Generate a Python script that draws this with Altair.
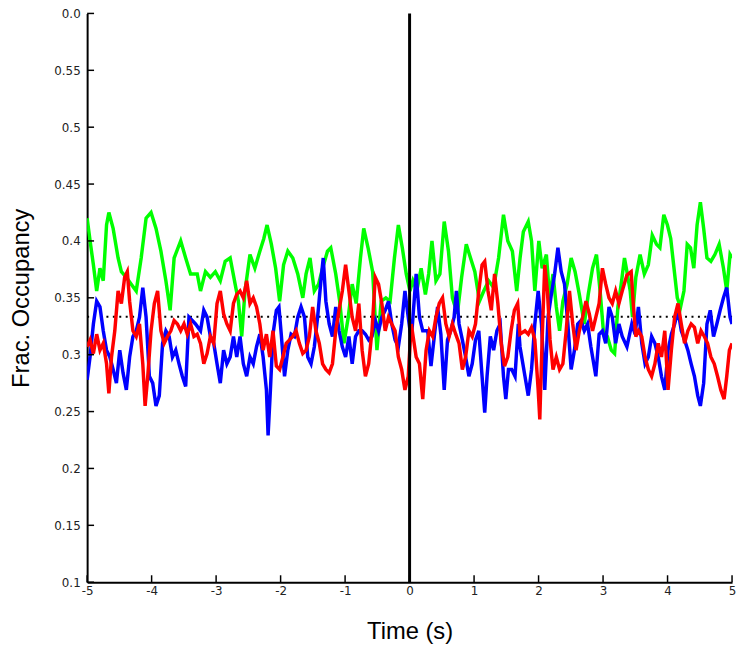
import altair as alt
import pandas as pd

# ---------------- data ----------------
green_t = [-5.0, -4.954, -4.903, -4.852, -4.801, -4.75, -4.699, -4.663, -4.597, -4.52, -4.469, -4.392,
           -4.316, -4.239, -4.162, -4.086, -4.009, -3.932, -3.856, -3.779, -3.713, -3.651, -3.549, -3.472,
           -3.396, -3.293, -3.242, -3.165, -3.089, -3.012, -2.935, -2.859, -2.782, -2.705, -2.654, -2.603,
           -2.552, -2.475, -2.399, -2.322, -2.261, -2.21, -2.143, -2.077, -2.015, -1.954, -1.888, -1.811,
           -1.734, -1.656, -1.605, -1.544, -1.477, -1.411, -1.349, -1.273, -1.222, -1.145, -1.084, -1.017,
           -0.951, -0.89, -0.828, -0.762, -0.711, -0.644, -0.573, -0.506, -0.44, -0.368, -0.302, -0.235,
           -0.174, -0.113, -0.052, 0.005, 0.051, 0.112, 0.179, 0.245, 0.296, 0.347, 0.409, 0.47, 0.537,
           0.603, 0.664, 0.741, 0.807, 0.879, 0.945, 1.012, 1.083, 1.15, 1.226, 1.303, 1.38, 1.456, 1.523,
           1.594, 1.661, 1.713, 1.764, 1.84, 1.891, 1.942, 2.004, 2.055, 2.121, 2.172, 2.224, 2.275, 2.326,
           2.377, 2.443, 2.505, 2.566, 2.632, 2.709, 2.77, 2.837, 2.898, 2.954, 3.005, 3.067, 3.128, 3.179,
           3.23, 3.281, 3.332, 3.37, 3.421, 3.456, 3.508, 3.574, 3.64, 3.702, 3.763, 3.829, 3.881, 3.942,
           3.998, 4.049, 4.1, 4.151, 4.202, 4.254, 4.305, 4.356, 4.407, 4.458, 4.509, 4.56, 4.611, 4.672,
           4.734, 4.8, 4.867, 4.918, 4.969, 5.0]
green_v = [0.420, 0.400, 0.379, 0.356, 0.376, 0.365, 0.414, 0.425, 0.411, 0.385, 0.373, 0.368,
           0.362, 0.356, 0.385, 0.420, 0.425, 0.411, 0.391, 0.365, 0.339, 0.385, 0.400, 0.385,
           0.371, 0.371, 0.356, 0.373, 0.368, 0.373, 0.365, 0.382, 0.385, 0.362, 0.347, 0.316,
           0.356, 0.388, 0.376, 0.391, 0.402, 0.414, 0.397, 0.376, 0.347, 0.379, 0.391, 0.385,
           0.371, 0.350, 0.371, 0.385, 0.356, 0.362, 0.376, 0.391, 0.394, 0.371, 0.347, 0.310,
           0.333, 0.362, 0.345, 0.385, 0.411, 0.394, 0.373, 0.304, 0.347, 0.350, 0.347, 0.385,
           0.414, 0.394, 0.371, 0.356, 0.365, 0.356, 0.376, 0.353, 0.371, 0.400, 0.365, 0.371, 0.417,
           0.391, 0.350, 0.336, 0.368, 0.397, 0.385, 0.373, 0.347, 0.356, 0.365, 0.359, 0.385, 0.423, 0.400,
           0.391, 0.356, 0.385, 0.408, 0.417, 0.400, 0.356, 0.400, 0.376, 0.388, 0.350, 0.371, 0.342, 0.321,
           0.347, 0.362, 0.385, 0.373, 0.353, 0.327, 0.353, 0.376, 0.388, 0.356, 0.321, 0.316, 0.304, 0.301,
           0.342, 0.362, 0.385, 0.373, 0.356, 0.333, 0.368, 0.388, 0.371, 0.379, 0.405, 0.397, 0.394, 0.423,
           0.414, 0.402, 0.376, 0.350, 0.342, 0.356, 0.397, 0.394, 0.376, 0.414, 0.434, 0.411, 0.385, 0.382,
           0.388, 0.397, 0.376, 0.356, 0.388, 0.385]

blue_t = [-5.0, -4.955, -4.903, -4.852, -4.801, -4.75, -4.699, -4.648, -4.597, -4.546, -4.494, -4.443,
          -4.392, -4.341, -4.29, -4.239, -4.188, -4.137, -4.086, -4.035, -3.983, -3.932, -3.881, -3.83,
          -3.779, -3.728, -3.677, -3.626, -3.575, -3.524, -3.472, -3.421, -3.37, -3.32, -3.242, -3.191,
          -3.14, -3.089, -3.037, -2.986, -2.935, -2.884, -2.833, -2.782, -2.731, -2.68, -2.629, -2.578,
          -2.526, -2.475, -2.424, -2.373, -2.322, -2.271, -2.22, -2.194, -2.158, -2.118, -2.066, -2.026,
          -1.99, -1.939, -1.888, -1.837, -1.786, -1.734, -1.683, -1.63, -1.579, -1.528, -1.477, -1.426,
          -1.375, -1.339, -1.298, -1.247, -1.196, -1.145, -1.094, -1.043, -0.992, -0.941, -0.89, -0.838,
          -0.787, -0.736, -0.685, -0.634, -0.583, -0.532, -0.481, -0.43, -0.378, -0.327, -0.276, -0.225,
          -0.174, -0.123, -0.072, -0.021, 0.026, 0.102, 0.153, 0.204, 0.281, 0.332, 0.383, 0.434, 0.485,
          0.537, 0.588, 0.639, 0.69, 0.726, 0.767, 0.818, 0.869, 0.92, 0.971, 1.022, 1.073, 1.124, 1.165,
          1.201, 1.252, 1.303, 1.354, 1.405, 1.456, 1.492, 1.533, 1.584, 1.635, 1.686, 1.712, 1.789, 1.84,
          1.891, 1.942, 1.994, 2.045, 2.096, 2.147, 2.198, 2.249, 2.3, 2.351, 2.402, 2.454, 2.505, 2.556,
          2.607, 2.658, 2.709, 2.76, 2.811, 2.888, 2.939, 2.99, 3.041, 3.092, 3.143, 3.195, 3.246, 3.297,
          3.37, 3.446, 3.497, 3.548, 3.6, 3.651, 3.702, 3.753, 3.804, 3.855, 3.906, 3.957, 4.008, 4.059,
          4.11, 4.162, 4.213, 4.264, 4.315, 4.366, 4.417, 4.468, 4.509, 4.56, 4.611, 4.662, 4.713, 4.764,
          4.815, 4.867, 4.918, 4.969, 5.0]
blue_v = [0.278, 0.298, 0.327, 0.347, 0.342, 0.321, 0.304, 0.298, 0.287, 0.275, 0.304, 0.284,
          0.269, 0.298, 0.316, 0.321, 0.333, 0.359, 0.333, 0.281, 0.275, 0.255, 0.264, 0.310,
          0.321, 0.316, 0.298, 0.304, 0.292, 0.281, 0.272, 0.333, 0.330, 0.327, 0.321, 0.339,
          0.333, 0.316, 0.310, 0.292, 0.275, 0.304, 0.292, 0.298, 0.316, 0.298, 0.316, 0.292,
          0.281, 0.298, 0.292, 0.307, 0.318, 0.298, 0.269, 0.229, 0.269, 0.318, 0.339, 0.342,
          0.318, 0.281, 0.304, 0.318, 0.316, 0.333, 0.342, 0.333, 0.298, 0.292, 0.307, 0.333,
          0.365, 0.385, 0.347, 0.327, 0.316, 0.342, 0.321, 0.307, 0.298, 0.316, 0.292, 0.316,
          0.321, 0.321, 0.318, 0.313, 0.316, 0.330, 0.321, 0.333, 0.339, 0.347, 0.327, 0.313,
          0.307, 0.327, 0.356, 0.333, 0.313, 0.371, 0.333, 0.321, 0.321, 0.290, 0.316, 0.342, 0.318,
          0.269, 0.313, 0.321, 0.333, 0.356, 0.327, 0.313, 0.298, 0.281, 0.292, 0.313, 0.321, 0.281, 0.249,
          0.281, 0.316, 0.304, 0.321, 0.327, 0.281, 0.261, 0.287, 0.287, 0.281, 0.327, 0.307, 0.281, 0.264,
          0.287, 0.327, 0.356, 0.327, 0.269, 0.333, 0.353, 0.371, 0.394, 0.373, 0.362, 0.327, 0.287, 0.304,
          0.327, 0.330, 0.321, 0.327, 0.307, 0.281, 0.318, 0.321, 0.310, 0.342, 0.333, 0.310, 0.327, 0.316,
          0.307, 0.327, 0.318, 0.342, 0.310, 0.292, 0.298, 0.316, 0.310, 0.298, 0.281, 0.269, 0.304, 0.318,
          0.327, 0.339, 0.321, 0.313, 0.304, 0.292, 0.281, 0.264, 0.255, 0.275, 0.327, 0.339, 0.316, 0.327,
          0.339, 0.350, 0.359, 0.333, 0.327]

red_t = [-5.0, -4.954, -4.903, -4.852, -4.801, -4.75, -4.699, -4.663, -4.622, -4.571, -4.52, -4.469,
         -4.418, -4.377, -4.341, -4.29, -4.239, -4.188, -4.137, -4.101, -4.06, -4.009, -3.958, -3.907,
         -3.856, -3.805, -3.754, -3.702, -3.651, -3.6, -3.549, -3.498, -3.447, -3.396, -3.344, -3.293,
         -3.242, -3.191, -3.14, -3.089, -3.037, -2.986, -2.935, -2.884, -2.833, -2.782, -2.731, -2.68,
         -2.629, -2.578, -2.526, -2.475, -2.424, -2.373, -2.322, -2.271, -2.22, -2.169, -2.118, -2.066,
         -2.015, -1.964, -1.913, -1.862, -1.811, -1.76, -1.709, -1.656, -1.605, -1.554, -1.503, -1.452,
         -1.4, -1.349, -1.298, -1.247, -1.196, -1.145, -1.094, -1.043, -0.992, -0.941, -0.89, -0.838,
         -0.787, -0.736, -0.685, -0.634, -0.583, -0.532, -0.481, -0.43, -0.378, -0.327, -0.276, -0.225,
         -0.174, -0.123, -0.072, -0.021, 0.026, 0.102, 0.153, 0.204, 0.256, 0.307, 0.358, 0.409, 0.46,
         0.511, 0.562, 0.613, 0.664, 0.715, 0.767, 0.818, 0.869, 0.92, 0.971, 1.022, 1.073, 1.124, 1.165,
         1.216, 1.267, 1.318, 1.369, 1.421, 1.472, 1.523, 1.574, 1.625, 1.676, 1.712, 1.789, 1.84, 1.891,
         1.942, 1.994, 2.019, 2.055, 2.096, 2.137, 2.178, 2.224, 2.275, 2.326, 2.377, 2.428, 2.479, 2.53,
         2.581, 2.632, 2.683, 2.735, 2.786, 2.837, 2.888, 2.939, 2.99, 3.041, 3.092, 3.143, 3.195, 3.246,
         3.297, 3.37, 3.436, 3.472, 3.508, 3.548, 3.6, 3.651, 3.702, 3.753, 3.804, 3.855, 3.906, 3.957,
         4.008, 4.059, 4.11, 4.162, 4.213, 4.264, 4.315, 4.366, 4.417, 4.468, 4.519, 4.57, 4.621, 4.672,
         4.724, 4.775, 4.826, 4.877, 4.918, 4.959, 5.0]
red_v = [0.307, 0.313, 0.301, 0.318, 0.304, 0.310, 0.292, 0.266, 0.298, 0.321, 0.356, 0.345,
         0.368, 0.373, 0.347, 0.321, 0.316, 0.327, 0.292, 0.255, 0.281, 0.321, 0.345, 0.356,
         0.321, 0.310, 0.316, 0.321, 0.330, 0.327, 0.321, 0.327, 0.318, 0.327, 0.316, 0.318,
         0.310, 0.292, 0.301, 0.316, 0.310, 0.345, 0.356, 0.336, 0.327, 0.321, 0.345, 0.353,
         0.356, 0.350, 0.365, 0.345, 0.350, 0.342, 0.327, 0.304, 0.318, 0.298, 0.321, 0.290,
         0.287, 0.298, 0.310, 0.313, 0.316, 0.321, 0.310, 0.301, 0.304, 0.316, 0.342, 0.321,
         0.310, 0.292, 0.287, 0.284, 0.292, 0.321, 0.339, 0.356, 0.379, 0.356, 0.333, 0.321,
         0.345, 0.304, 0.281, 0.292, 0.321, 0.368, 0.362, 0.345, 0.321, 0.333, 0.327, 0.321,
         0.298, 0.287, 0.269, 0.281, 0.327, 0.298, 0.292, 0.261, 0.304, 0.321, 0.316, 0.333, 0.345,
         0.350, 0.327, 0.316, 0.327, 0.318, 0.310, 0.287, 0.298, 0.321, 0.316, 0.327, 0.356, 0.379, 0.382,
         0.356, 0.339, 0.371, 0.345, 0.310, 0.290, 0.298, 0.321, 0.339, 0.345, 0.318, 0.321, 0.318, 0.324,
         0.313, 0.269, 0.243, 0.313, 0.379, 0.356, 0.313, 0.287, 0.298, 0.287, 0.292, 0.321, 0.356, 0.327,
         0.304, 0.321, 0.333, 0.347, 0.336, 0.321, 0.333, 0.345, 0.376, 0.362, 0.350, 0.345, 0.356, 0.345,
         0.356, 0.370, 0.373, 0.342, 0.316, 0.321, 0.316, 0.298, 0.287, 0.281, 0.292, 0.310, 0.298, 0.321,
         0.269, 0.304, 0.333, 0.345, 0.327, 0.310, 0.321, 0.327, 0.324, 0.310, 0.321, 0.316, 0.310, 0.298,
         0.292, 0.281, 0.269, 0.261, 0.281, 0.304, 0.310]

chance_level = [0.3333]
event_time = [0.0]
x_ticks = [-5, -4, -3, -2, -1, 0, 1, 2, 3, 4, 5]
y_ticks = [0.1, 0.15, 0.2, 0.25, 0.3, 0.35, 0.4, 0.45, 0.5, 0.55, 0.6]
x_title = "Time (s)"
y_title = "Frac. Occupancy"

# ---------------- chart ----------------
W, H = 652, 575
FONT = "DejaVu Sans"
xs = alt.Scale(domain=[-5, 5], nice=False, zero=False)
ys = alt.Scale(domain=[0.1, 0.6], nice=False, zero=False)

x_axis = alt.Axis(values=x_ticks, ticks=False, grid=False, domainColor="black", domainWidth=2,
                  labelFont=FONT, labelFontSize=12, labelColor="#222", labelPadding=3,
                  labelFlush=False, labelExpr="'' + datum.value",
                  title=x_title, titleFont="Liberation Sans", titleFontSize=24,
                  titleFontWeight="normal", titleColor="black", titleX=W / 2, titleY=50,
                  titleBaseline="middle", titleAlign="center")
y_axis = alt.Axis(values=y_ticks, ticks=False, grid=False, domainColor="black", domainWidth=2,
                  labelFont=FONT, labelFontSize=12, labelColor="#222", labelPadding=7,
                  labelFlush=False,
                  labelExpr="datum.value > 0.59 ? '0.0' : format(datum.value, '.2~f')",
                  title=y_title, titleFont="Liberation Sans", titleFontSize=24,
                  titleFontWeight="normal", titleColor="black", titleX=-66, titleY=H / 2,
                  titleBaseline="middle", titleAlign="center", titleAngle=-90)

X = lambda f: alt.X(f, scale=xs, axis=x_axis)
Y = lambda f: alt.Y(f, scale=ys, axis=y_axis)


def series(t, v, color):
    df = pd.DataFrame({"t": t, "v": v})
    return alt.Chart(df).mark_line(color=color, strokeWidth=3.5, clip=True).encode(
        x=X("t:Q"), y=Y("v:Q"))


x_tick_marks = alt.Chart(pd.DataFrame({"t": x_ticks})).mark_rule(color="black", strokeWidth=1.5).encode(
    x=X("t:Q"), y=alt.value(H), y2=alt.value(H - 7))
y_tick_marks = alt.Chart(pd.DataFrame({"v": y_ticks})).mark_rule(color="black", strokeWidth=1.5).encode(
    y=Y("v:Q"), x=alt.value(0), x2=alt.value(7))

chance = alt.Chart(pd.DataFrame({"v": chance_level})).mark_rule(
    color="black", strokeWidth=2, strokeDash=[2, 4.5]).encode(y=Y("v:Q"))

event = alt.Chart(pd.DataFrame({"t": event_time})).mark_rule(color="black", strokeWidth=3).encode(
    x=X("t:Q"))

chart = alt.layer(
    chance,
    series(green_t, green_v, "#00ff00"),
    series(blue_t, blue_v, "#0000ff"),
    series(red_t, red_v, "#ff0000"),
    event,
    x_tick_marks,
    y_tick_marks,
).properties(
    width=W, height=H,
    autosize=alt.AutoSizeParams(type="none"),
    padding={"left": 80, "top": 2, "right": 4, "bottom": 60},
).configure_view(stroke=None)

chart.save("out.html", embed_options={"renderer": "svg", "actions": False})
